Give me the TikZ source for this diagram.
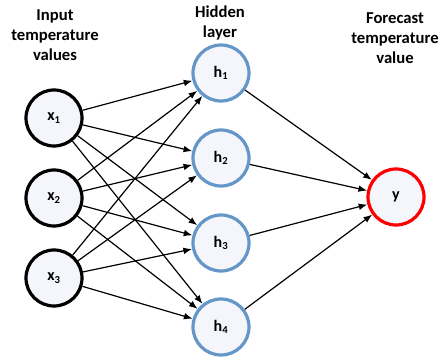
\documentclass[tikz,border=0pt]{standalone}
\usepackage{fontspec}
\setmainfont{Carlito}
\usetikzlibrary{arrows.meta}
\definecolor{hblue}{RGB}{100,150,200}
\definecolor{nfill}{RGB}{244,246,252}
\begin{document}
\begin{tikzpicture}[x=0.75pt,y=-0.75pt,
  neuron/.style={circle,minimum size=56*0.75pt,inner sep=0pt,line width=2.4pt,fill=nfill,font=\bfseries\fontsize{12}{14}\selectfont},
  inp/.style={neuron,draw=black},
  hid/.style={neuron,draw=hblue},
  outp/.style={neuron,draw=red},
  lbl/.style={align=center,font=\bfseries\fontsize{12.5}{15}\selectfont},
  conn/.style={line width=0.9pt,-{Latex[length=6.5pt,width=5pt]}}]
\useasboundingbox (0,0) rectangle (440,360);
\node[lbl] (l1) at (55,35) {Input\\temperature\\values};
\node[lbl] (l2) at (220,23) {Hidden\\layer};
\node[lbl] (l3) at (395,38) {Forecast\\temperature\\value};
\node[inp] (x1) at (54,118) {x\textsubscript{1}};
\node[inp] (x2) at (54,198) {x\textsubscript{2}};
\node[inp] (x3) at (54,278) {x\textsubscript{3}};
\node[hid] (h1) at (221,73) {h\textsubscript{1}};
\node[hid] (h2) at (221,158) {h\textsubscript{2}};
\node[hid] (h3) at (221,243) {h\textsubscript{3}};
\node[hid] (h4) at (221,327) {h\textsubscript{4}};
\node[outp] (y) at (396,197) {y};
\foreach \i in {1,2,3}{
  \foreach \j in {1,2,3,4}{
    \draw[conn] (x\i) -- (h\j);
  }
}
\foreach \j in {1,2,3,4}{
  \draw[conn] (h\j) -- (y);
}
\end{tikzpicture}
\end{document}
